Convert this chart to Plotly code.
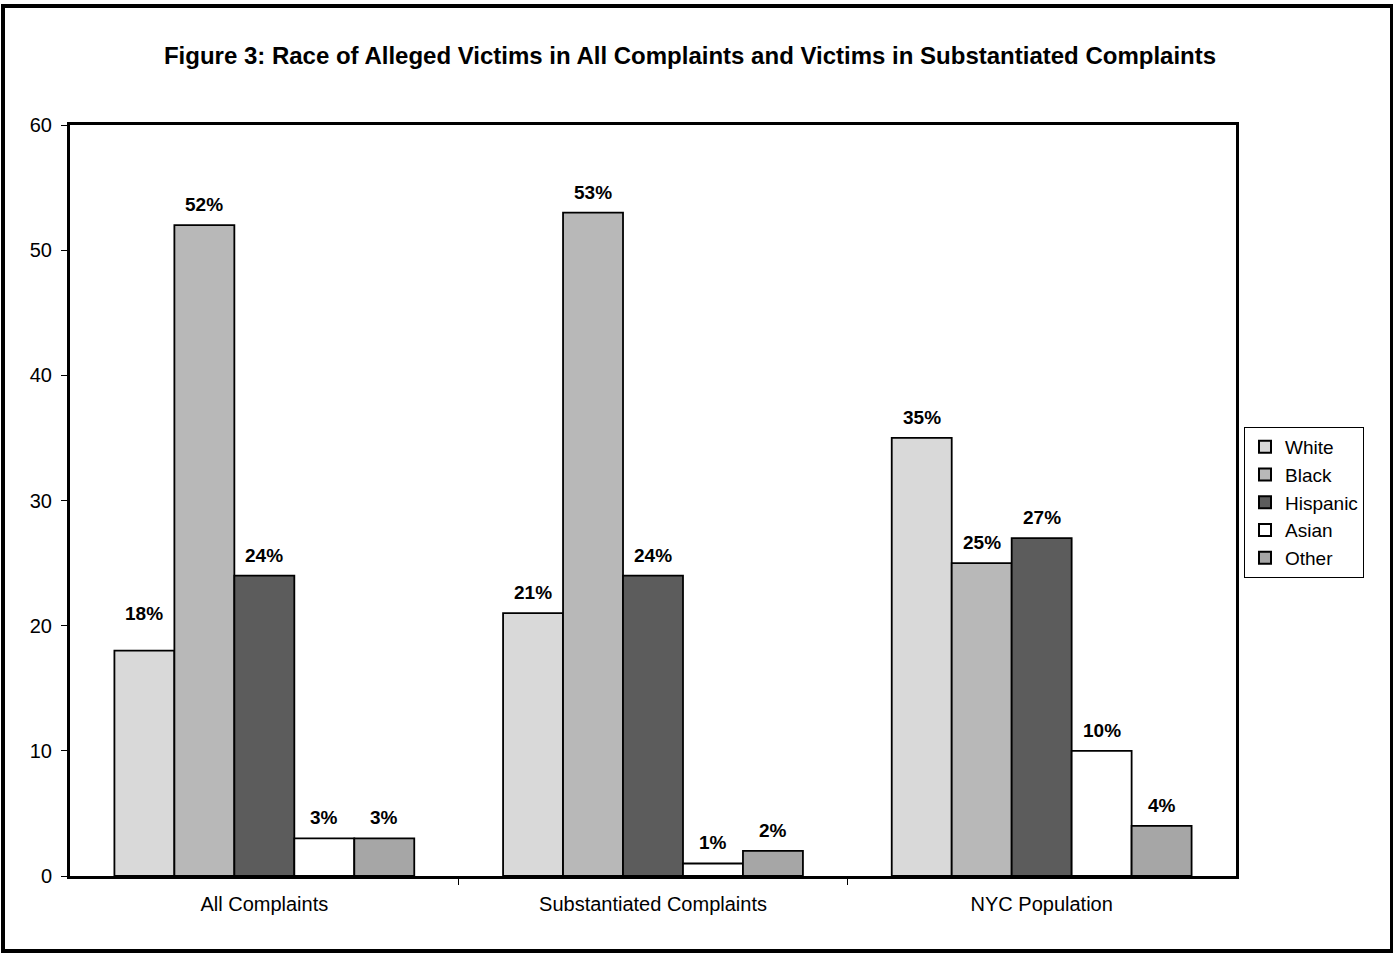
import plotly.graph_objects as go

categories = ["All Complaints", "Substantiated Complaints", "NYC Population"]
races = ["White", "Black", "Hispanic", "Asian", "Other"]
white = [18, 21, 35]
black = [52, 53, 25]
hispanic = [24, 24, 27]
asian = [3, 1, 10]
other = [3, 2, 4]
series_values = [white, black, hispanic, asian, other]
colors = ["#D9D9D9", "#B8B8B8", "#5C5C5C", "#FFFFFF", "#A6A6A6"]

y_ticks = [0, 10, 20, 30, 40, 50, 60]

FONT = "Liberation Sans, Arial, sans-serif"
bar_w = 0.1543
n = len(races)
xpos = list(range(len(categories)))

fig = go.Figure()
annotations = []
for i, (name, vals, col) in enumerate(zip(races, series_values, colors)):
    off = -bar_w * n / 2 + i * bar_w
    fig.add_trace(go.Bar(
        name=name, x=xpos, y=vals, width=bar_w, offset=off,
        marker=dict(color=col, line=dict(color="black", width=1.8)),
    ))
    for j, v in enumerate(vals):
        lift = 25 if (i == 0 and j == 0) else 8
        annotations.append(dict(
            x=j + off + bar_w / 2, y=v, xref="x", yref="y",
            text=f"{v}%", showarrow=False, yanchor="bottom", yshift=lift,
            font=dict(family=FONT, size=19, color="black", weight="bold"),
        ))

# Outer figure border
fig.add_shape(type="rect", xref="paper", yref="paper",
              x0=-67 / 1166, x1=1322 / 1166, y0=-75 / 751, y1=870 / 751,
              line=dict(color="black", width=4), layer="above")

fig.update_layout(
    width=1393, height=953,
    margin=dict(l=70, r=157, t=125, b=77, autoexpand=False),
    paper_bgcolor="white", plot_bgcolor="white",
    font=dict(family=FONT, size=20, color="black"),
    title=dict(text="<b>Figure 3: Race of Alleged Victims in All Complaints and Victims in Substantiated Complaints</b>",
               x=690 / 1393, xanchor="center", y=1 - 56 / 953, yanchor="middle",
               font=dict(family=FONT, size=24, color="black")),
    showlegend=True,
    legend=dict(x=(1244 - 70) / 1166, y=(876 - 427) / 751, xanchor="left", yanchor="top",
                bordercolor="black", borderwidth=1, bgcolor="white",
                font=dict(family=FONT, size=19), tracegroupgap=0, itemsizing="constant"),
    annotations=annotations,
    bargap=0.23,
)
fig.update_xaxes(
    range=[-0.5, 2.5], tickmode="array", tickvals=xpos, ticktext=categories,
    ticks="", showline=True, linecolor="black", linewidth=3, mirror=True,
    showgrid=False, zeroline=False, tickfont=dict(family=FONT, size=20),
    ticklabelstandoff=8,
    minor=dict(tickmode="array", tickvals=[0.5, 1.5], ticks="outside", ticklen=6,
               tickcolor="black", tickwidth=1, showgrid=False),
)
fig.update_yaxes(
    range=[0, 60], tickmode="array", tickvals=y_ticks, ticks="outside", ticklen=6,
    tickcolor="black", showline=True, linecolor="black", linewidth=3, mirror=True,
    showgrid=False, zeroline=False, tickfont=dict(family=FONT, size=20),
    ticklabelstandoff=5,
)

fig.write_html("out.html", config={"displayModeBar": False},
               post_script="document.body.style.margin='0';document.body.style.padding='0';")
